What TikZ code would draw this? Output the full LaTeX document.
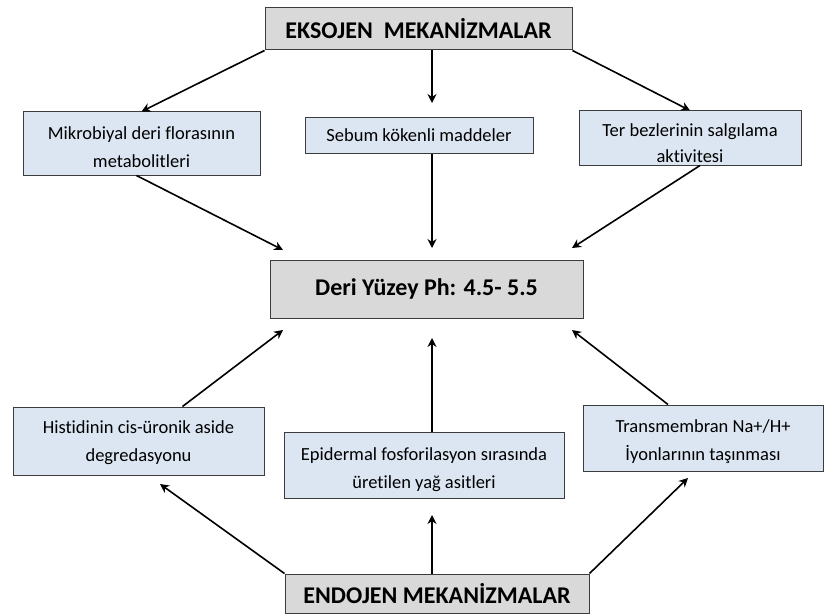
\documentclass[tikz,border=0pt]{standalone}
\usepackage{fontspec}
\setmainfont{Carlito}[RawFeature={-liga}]
\usetikzlibrary{arrows.meta}
\definecolor{boxblue}{RGB}{220,230,242}
\definecolor{boxgray}{RGB}{217,217,217}
\definecolor{edge}{RGB}{60,60,60}
\newcommand\lowr[1]{\rule{0pt}{#1pt}}
\tikzset{
  bluebox/.style={draw=edge, line width=1pt, fill=boxblue, inner sep=0pt, align=center,
    font=\fontsize{18.5}{28}\selectfont},
  graybox/.style={draw=edge, line width=1pt, fill=boxgray, inner sep=0pt, align=center,
    font=\bfseries\fontsize{24}{28}\selectfont},
  conn/.style={line width=1.6pt, -{Stealth[length=9pt,width=9pt]}},
}
\begin{document}
\begin{tikzpicture}[x=1pt,y=-1pt]
\useasboundingbox (0,0) rectangle (827,615);
\coordinate (cx) at (432,0);
% nodes
\node[graybox, minimum width=307, minimum height=42] (top) at (418.5,29) {EKSOJEN\ \ MEKANİZMALAR};
\node[bluebox, minimum width=237, minimum height=63] (mik) at (141.5,143.5) {\lowr{20}Mikrobiyal deri florasının\\metabolitleri};
\node[bluebox, minimum width=228, minimum height=35] (seb) at (419,135.5) {Sebum kökenli maddeler};
\node[bluebox, minimum width=222, minimum height=54] (ter) at (690,138) {\lowr{24}Ter bezlerinin salgılama\\[-2pt]aktivitesi};
\node[graybox, minimum width=313, minimum height=58] (deri) at (426.5,289) {Deri Yüzey Ph: 4.5- 5.5};
\node[bluebox, minimum width=251, minimum height=68] (his) at (138.5,441) {\lowr{16}Histidinin cis-üronik aside\\degredasyonu};
\node[bluebox, minimum width=280, minimum height=66] (epi) at (424,465) {\lowr{22}Epidermal fosforilasyon sırasında\\üretilen yağ asitleri};
\node[bluebox, minimum width=240, minimum height=66] (tra) at (703,438) {\lowr{20}Transmembran Na+/H+\\İyonlarının taşınması};
\node[graybox, minimum width=304, minimum height=39] (bot) at (437,593.5) {ENDOJEN MEKANİZMALAR};
% free ends
\coordinate (sebtip) at (432,103);
\coordinate (dl) at (283,250);
\coordinate (dm) at (432,248);
\coordinate (dr) at (572,248);
\coordinate (ul) at (283,330);
\coordinate (um) at (432,338);
\coordinate (ur) at (572,330);
\coordinate (hisend) at (160,484);
\coordinate (epiend) at (432,515);
\coordinate (traend) at (688,478);
% connectors
\draw[conn] (top.south west) -- (mik.north);
\draw[conn] (top.south -| cx) -- (sebtip);
\draw[conn] (top.south east) -- (ter.north);
\draw[conn] ([xshift=-5pt]mik.south) -- (dl);
\draw[conn] (seb.south -| cx) -- (dm);
\draw[conn] ([xshift=10pt]ter.south) -- (dr);
\draw[conn] ([xshift=44pt]his.north) -- (ul);
\draw[conn] (epi.north -| cx) -- (um);
\draw[conn] ([xshift=-35pt]tra.north) -- (ur);
\draw[conn] (bot.north west) -- (hisend);
\draw[conn] (bot.north -| cx) -- (epiend);
\draw[conn] (bot.north east) -- (traend);
\end{tikzpicture}
\end{document}
